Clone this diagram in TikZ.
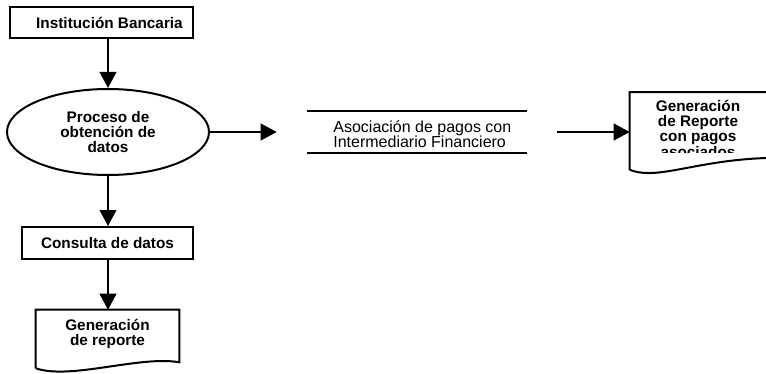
\documentclass[tikz,border=0pt]{standalone}
\usepackage{fontspec}
\setmainfont{Liberation Sans}
\usetikzlibrary{arrows.meta,positioning,shapes.geometric}

\tikzset{
  flowbox/.style={
    draw,
    line width=1.5pt,
    font=\bfseries\fontsize{11.5}{11.25}\selectfont,
    align=center,
    inner sep=0pt
  },
  flowproc/.style={
    ellipse,
    draw,
    line width=1.5pt,
    font=\bfseries\fontsize{11.5}{11.25}\selectfont,
    align=center,
    inner sep=0pt,
    minimum width=151.5pt,
    minimum height=64.5pt
  },
  flowdoc/.style={
    font=\bfseries\fontsize{11.5}{11.25}\selectfont,
    align=center,
    inner sep=0pt
  },
  flowline/.style={
    line width=1.5pt
  },
  flowarrow/.style={
    -{Triangle[length=12pt,width=12.5pt]},
    line width=1.5pt
  }
}

\begin{document}
\begin{tikzpicture}[x=0.75pt,y=-0.75pt]
  \useasboundingbox (0,0) rectangle (766,374);
  \clip (0,0) rectangle (766,374);

  \node[flowbox,minimum width=137.25pt,minimum height=23.25pt] (bank) at (101.5,22.5)
    {\hspace*{12pt}Institución Bancaria};
  \node[flowproc] (proc) at (108,132)
    {Proceso de\\obtención de\\datos};
  \node[flowbox,minimum width=128.25pt,minimum height=24pt] (query) at (107.5,243)
    {Consulta de datos};

  % documento de salida (abajo)
  \node[flowdoc,minimum width=107.25pt,minimum height=36pt] (report) at (107.5,334)
    {Generación\\de reporte};
  \draw[flowline] ([yshift=-7.5pt]report.south west) -- (report.north west)
    -- (report.north east) -- ([yshift=-3pt]report.south east)
    .. controls ([xshift=-29.25pt,yshift=2.25pt]report.south east)
    and ([xshift=25.5pt,yshift=-16.5pt]report.south west)
    .. ([yshift=-7.5pt]report.south west);

  % almacen de datos
  \node[minimum width=165pt,minimum height=31.5pt,inner sep=0pt] (store) at (417,132) {};
  \node[font=\fontsize{12}{11.25}\selectfont,align=left,inner sep=0pt] (storetext)
    at ([xshift=4pt,yshift=-1.5pt]store.center)
    {Asociación de pagos con\\Intermediario Financiero};
  \draw[flowline] (store.north west) -- (store.north east);
  \draw[flowline] (store.south west) -- (store.south east);

  % documento de salida (derecha)
  \begin{scope}
    \clip (600,80) rectangle (770,152);
    \node[flowdoc,minimum width=117pt,minimum height=57.75pt] (final) at (708,131)
      {\hspace*{-15pt}\begin{tabular}{@{}c@{}}Generación\\de Reporte\\con pagos\\asociados\end{tabular}};
  \end{scope}
  \draw[flowline] (final.south west) -- (final.north west) -- (final.north east)
    -- ([yshift=9pt]final.south east)
    .. controls ([xshift=-64.5pt,yshift=9.75pt]final.south east)
    and ([xshift=22.5pt,yshift=-9pt]final.south west) .. (final.south west);

  \draw[flowarrow] (proc.north |- bank.south) -- (proc.north);
  \draw[flowarrow] (proc.south) -- (query.north -| proc.south);
  \draw[flowarrow] (proc.south |- query.south) -- (report.north -| proc.south);
  \draw[flowarrow,shorten >=22.5pt] (proc.east) -- (proc.east -| store.west);
  \draw[flowarrow,shorten <=22.5pt] (proc.east -| store.east) -- (proc.east -| final.west);
\end{tikzpicture}
\end{document}
